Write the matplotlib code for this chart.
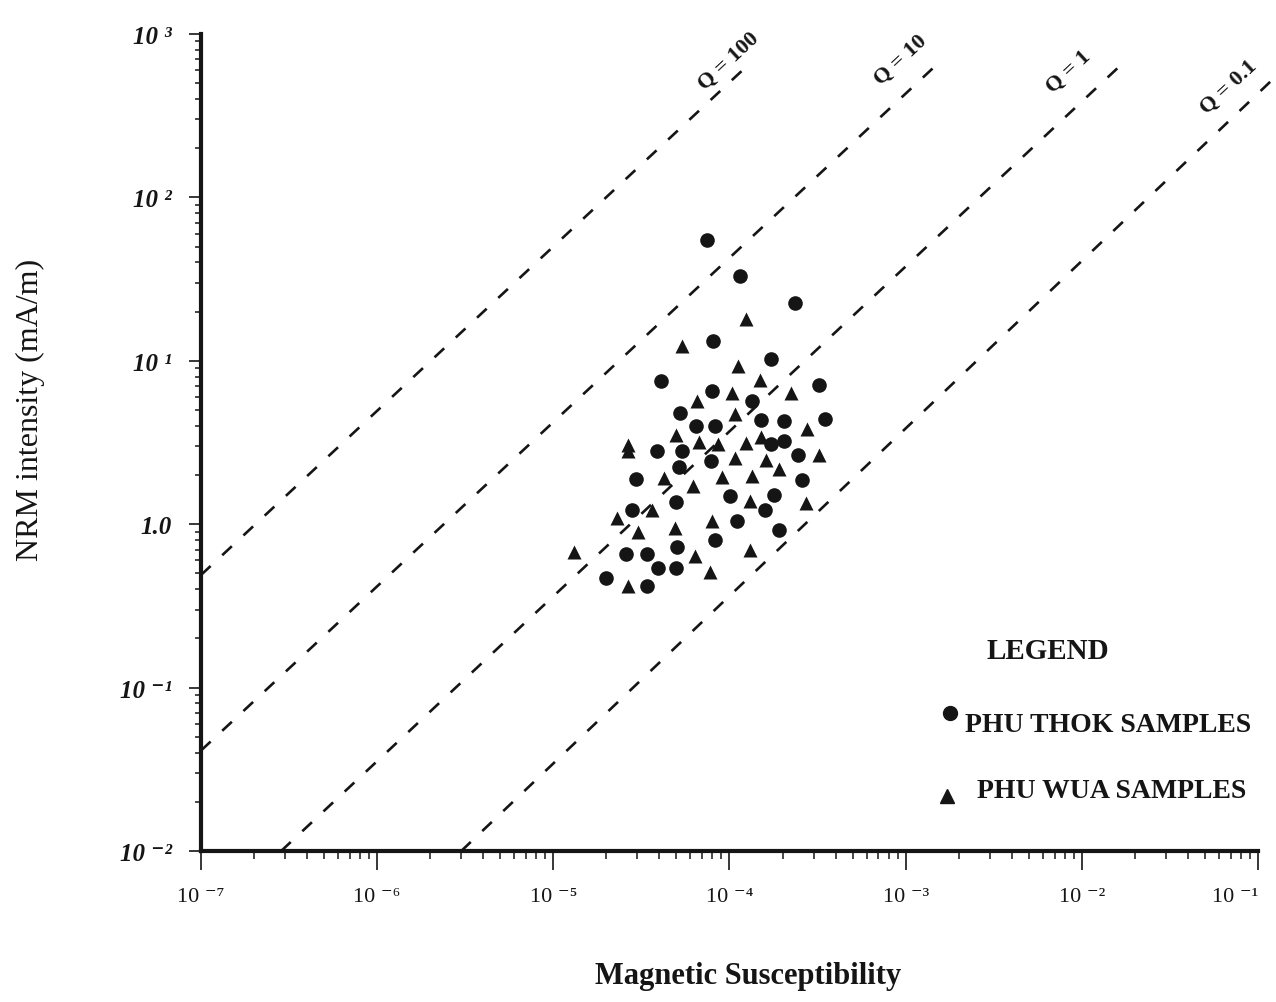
import matplotlib.pyplot as plt
import numpy as np

# PHU THOK samples (circles): magnetic susceptibility, NRM intensity (mA/m)
thok_k = [7.5e-5, 1.15e-4, 2.34e-4, 8.1e-5, 1.73e-4, 4.06e-5, 3.24e-4, 7.96e-5,
          1.35e-4, 5.22e-5, 6.49e-5, 8.32e-5, 1.51e-4, 2.04e-4, 3.49e-4, 3.88e-5,
          5.41e-5, 5.15e-5, 7.85e-5, 1.71e-4, 2.04e-4, 2.45e-4, 2.93e-5, 2.59e-4,
          4.95e-5, 1.01e-4, 1.79e-4, 2.81e-5, 1.60e-4, 1.10e-4, 1.90e-4, 8.30e-5,
          5.05e-5, 2.60e-5, 3.40e-5, 3.92e-5, 5.00e-5, 1.98e-5, 3.40e-5]
thok_nrm = [55.1, 32.9, 22.6, 13.2, 10.3, 7.52, 7.11, 6.53,
            5.71, 4.80, 4.01, 4.01, 4.34, 4.26, 4.40, 2.82,
            2.79, 2.24, 2.45, 3.10, 3.25, 2.65, 1.88, 1.86,
            1.37, 1.48, 1.52, 1.22, 1.22, 1.04, 0.918, 0.796,
            0.724, 0.659, 0.659, 0.542, 0.542, 0.471, 0.421]

# PHU WUA samples (triangles)
wua_k = [1.24e-4, 5.41e-5, 1.12e-4, 1.49e-4, 2.22e-4, 6.55e-5, 1.04e-4, 1.08e-4,
         2.76e-4, 5.00e-5, 6.71e-5, 8.55e-5, 1.24e-4, 1.50e-4, 2.67e-5, 2.67e-5,
         3.24e-4, 1.08e-4, 1.61e-4, 1.91e-4, 4.24e-5, 6.17e-5, 9.04e-5, 1.34e-4,
         3.65e-5, 1.30e-4, 2.72e-4, 2.30e-5, 3.04e-5, 4.91e-5, 7.92e-5, 1.31e-5,
         6.38e-5, 1.30e-4, 7.80e-5, 2.64e-5]
wua_nrm = [18.0, 12.4, 9.25, 7.60, 6.35, 5.71, 6.35, 4.72,
           3.83, 3.52, 3.18, 3.10, 3.12, 3.40, 3.05, 2.80,
           2.67, 2.53, 2.46, 2.19, 1.91, 1.72, 1.94, 1.98,
           1.22, 1.39, 1.35, 1.09, 0.891, 0.944, 1.05, 0.679,
           0.637, 0.698, 0.512, 0.417]

# Q lines (hand drawn in the original), end points
q_labels = ["Q = 100", "Q = 10", "Q = 1", "Q = 0.1"]
q_k_start = [1e-7, 1e-7, 2.85e-7, 3.0e-6]
q_nrm_start = [0.489, 0.0412, 0.01, 0.01]
q_k_end = [1.35e-4, 1.58e-3, 1.62e-2, 1.22e-1]
q_nrm_end = [684, 684, 628, 531]

x_ticks = [1e-7, 1e-6, 1e-5, 1e-4, 1e-3, 1e-2, 1e-1]
x_ticklabels = ["10 \u207b\u2077", "10 \u207b\u2076", "10 \u207b\u2075", "10 \u207b\u2074",
                "10 \u207b\u00b3", "10 \u207b\u00b2", "10 \u207b\u00b9"]
y_ticks = [1e-2, 1e-1, 1e0, 1e1, 1e2, 1e3]
y_ticklabels = ["10 \u207b\u00b2", "10 \u207b\u00b9", "1.0", "10 \u00b9", "10 \u00b2", "10 \u00b3"]

plt.rcParams['font.family'] = ['Liberation Serif', 'DejaVu Serif']
ink = "#151515"

fig = plt.figure(figsize=(12.76, 10.03), dpi=100)
ax = fig.add_axes([0.1575, 0.1505, 0.8284, 0.8146])
ax.set_xscale("log")
ax.set_yscale("log")
ax.set_xlim(1e-7, 1e-1)
ax.set_ylim(1e-2, 1e3)

for k0, n0, k1, n1 in zip(q_k_start, q_nrm_start, q_k_end, q_nrm_end):
    ax.plot([k0, k1], [n0, n1], color=ink, lw=1.9, ls=(0, (5.0, 6.0)),
            clip_on=False, solid_capstyle="butt")

# label offsets from the line ends (pixels)
offs = [(-24, 0), (-40, 2), (-50, -4), (-44, -8)]
for lab, k1, n1, (dx, dy) in zip(q_labels, q_k_end, q_nrm_end, offs):
    ax.annotate(lab, xy=(k1, n1), xytext=(dx, dy), textcoords="offset pixels",
                rotation=43, ha="center", va="center", rotation_mode="anchor",
                fontsize=16, fontweight="bold", color=ink, annotation_clip=False)

ax.plot(thok_k, thok_nrm, "o", ms=10.5, color=ink, mec="none")
ax.plot(wua_k, wua_nrm, "^", ms=10, color=ink, mec="none")

for s in ["top", "right"]:
    ax.spines[s].set_visible(False)
for s in ["left", "bottom"]:
    ax.spines[s].set_linewidth(3)
    ax.spines[s].set_color(ink)

ax.set_xticks(x_ticks, x_ticklabels)
ax.set_yticks(y_ticks, y_ticklabels)
ax.xaxis.set_minor_formatter(plt.NullFormatter())
ax.yaxis.set_minor_formatter(plt.NullFormatter())
ax.tick_params(axis="x", which="major", direction="out", length=14, width=1.2,
               pad=12, labelsize=16, colors=ink)
ax.tick_params(axis="x", which="minor", direction="out", length=6, width=1.1, colors=ink)
ax.tick_params(axis="y", which="major", direction="out", length=9, width=1.2,
               pad=12, labelsize=18, colors=ink)
ax.tick_params(axis="y", which="minor", direction="out", length=4, width=1.1, colors=ink)
for t in ax.get_yticklabels():
    t.set_fontweight("bold")
    t.set_fontstyle("italic")
# last x label sits left of its tick, as in the original
ax.get_xticklabels()[-1].set_horizontalalignment("right")

fig.text(0.0235, 0.591, "NRM intensity (mA/m)", rotation=90, ha="center", va="center",
         fontsize=23, color=ink)
fig.text(0.586, 0.026, "Magnetic Susceptibility", ha="center", va="center",
         fontsize=22, fontweight="bold", color=ink)

# legend block
fig.text(0.8213, 0.350, "LEGEND", ha="center", va="center", fontsize=21,
         fontweight="bold", color=ink)
fig.text(0.7563, 0.2762, "PHU THOK SAMPLES", ha="left", va="center", fontsize=20,
         fontweight="bold", color=ink)
fig.text(0.7657, 0.2104, "PHU WUA SAMPLES", ha="left", va="center", fontsize=20,
         fontweight="bold", color=ink)
ax.plot([0.7445], [0.2881], "o", ms=10, color=ink, transform=fig.transFigure, clip_on=False)
ax.plot([0.7422], [0.2054], "^", ms=10, color=ink, transform=fig.transFigure, clip_on=False)

fig.savefig("out.png", dpi=100, facecolor="white")
